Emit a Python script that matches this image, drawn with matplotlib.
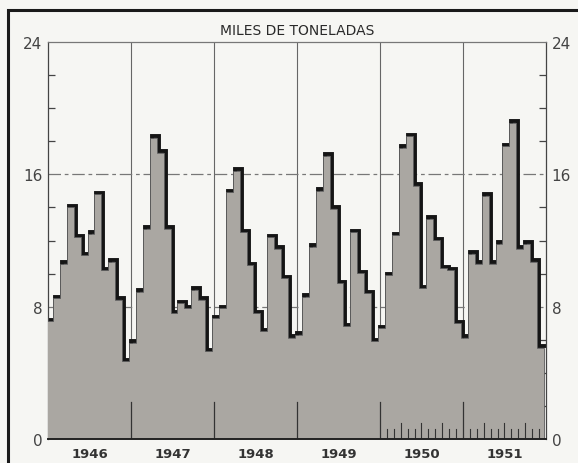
import numpy as np
import matplotlib
matplotlib.use("Agg")
import matplotlib.pyplot as plt
import matplotlib.transforms as mtransforms
from matplotlib.patches import Rectangle

# ---- data (thousand tonnes, monthly) ----
years = ["1946", "1947", "1948", "1949", "1950", "1951"]
v1946 = [7.2, 8.6, 10.7, 14.1, 12.3, 11.2, 12.5, 14.9, 10.3, 10.8, 8.5, 4.8]
v1947 = [5.9, 9.0, 12.8, 18.3, 17.4, 12.8, 7.7, 8.3, 8.0, 9.1, 8.5, 5.4]
v1948 = [7.4, 8.0, 15.0, 16.3, 12.6, 10.6, 7.7, 6.6, 12.3, 11.6, 9.8, 6.2]
v1949 = [6.4, 8.7, 11.7, 15.1, 17.2, 14.0, 9.5, 6.9, 12.6, 10.1, 8.9, 6.0]
v1950 = [6.8, 10.0, 12.4, 17.7, 18.4, 15.4, 9.2, 13.4, 12.1, 10.4, 10.3, 7.1]
v1951 = [6.2, 11.3, 10.7, 14.8, 10.7, 11.9, 17.8, 19.2, 11.6, 11.9, 10.8, 5.6]
y_ticks = [0, 8, 16, 24]
title = "MILES DE TONELADAS"

values = np.array(v1946 + v1947 + v1948 + v1949 + v1950 + v1951)
n = len(values)
edges = np.arange(n + 1)

bg = "#f6f6f3"
fig = plt.figure(figsize=(5.78, 4.64), dpi=100, facecolor=bg)
ax = fig.add_axes([48/578, 1-440/464, (546-48)/578, (440-43)/464])
ax.set_facecolor(bg)
ax.set_xlim(0, n)
ax.set_ylim(0, 24)

# year separators
for k in range(1, len(years)):
    ax.axvline(12*k, color="#666666", lw=0.8, zorder=1)
# dashed horizontal grid
for yv in (8, 16):
    ax.axhline(yv, color="#777777", lw=0.9, dashes=(10, 3, 3, 3), zorder=1)

# shadow outline (black) then offset grey fill
ax.stairs(values, edges, baseline=None, color="#151515", lw=2.8, zorder=2)
off = mtransforms.offset_copy(ax.transData, fig=fig, x=-2.0, y=-1.5, units="dots")
ax.stairs(values, edges, baseline=0, fill=True, facecolor="#aaa7a2",
          edgecolor="#5a5a5a", lw=0.6, zorder=3, transform=off)

# bottom year ticks and monthly ticks (1950-1951)
bt = ax.get_xaxis_transform()
for k in range(1, len(years)):
    ax.plot([12*k, 12*k], [0, 37/397], color="#333333", lw=0.9, transform=bt, zorder=4)
for m in range(48, n):
    if m % 12 == 0:
        continue
    h = 16/397 if m % 3 == 0 else 10/397
    ax.plot([m, m], [0, h], color="#333333", lw=0.8, transform=bt, zorder=4)

# axes styling
for side in ("left", "right", "top"):
    ax.spines[side].set_color("#444444")
    ax.spines[side].set_linewidth(0.9)
ax.spines["bottom"].set_color("#222222")
ax.spines["bottom"].set_linewidth(1.4)
ax.spines["top"].set_color("#777777")
ax.spines["top"].set_zorder(5)
ax.spines["bottom"].set_zorder(5)

ax.set_yticks(y_ticks)
ax.set_yticklabels([str(t) for t in y_ticks])
ax.set_yticks(np.arange(0, 25, 2), minor=True)
ax.tick_params(axis="y", which="major", length=0, pad=4, labelsize=11,
               labelcolor="#444444", left=True, right=True,
               labelleft=True, labelright=True)
ax.tick_params(axis="y", which="minor", length=5, direction="in", width=0.9,
               color="#444444", left=True, right=True)
for lab in ax.get_yticklabels():
    lab.set_family(["Liberation Sans Narrow", "DejaVu Sans"])

ax.set_xticks([12*k + 6 for k in range(len(years))])
ax.set_xticklabels(years)
ax.tick_params(axis="x", which="major", length=0, pad=6, labelsize=9.5,
               labelcolor="#333333")
for lab in ax.get_xticklabels():
    lab.set_fontweight("bold")

fig.text(297/578, 1-31/464, title, ha="center", va="center",
         fontsize=10, color="#2a2a2a", family="DejaVu Sans")

# outer frame
fig.patches.append(Rectangle((8/578, -0.1), 1.1, 1-11/464+0.1,
                             transform=fig.transFigure, fill=False,
                             edgecolor="#1a1a1a", lw=2.2))

fig.savefig("out.png", dpi=100, facecolor=bg)
